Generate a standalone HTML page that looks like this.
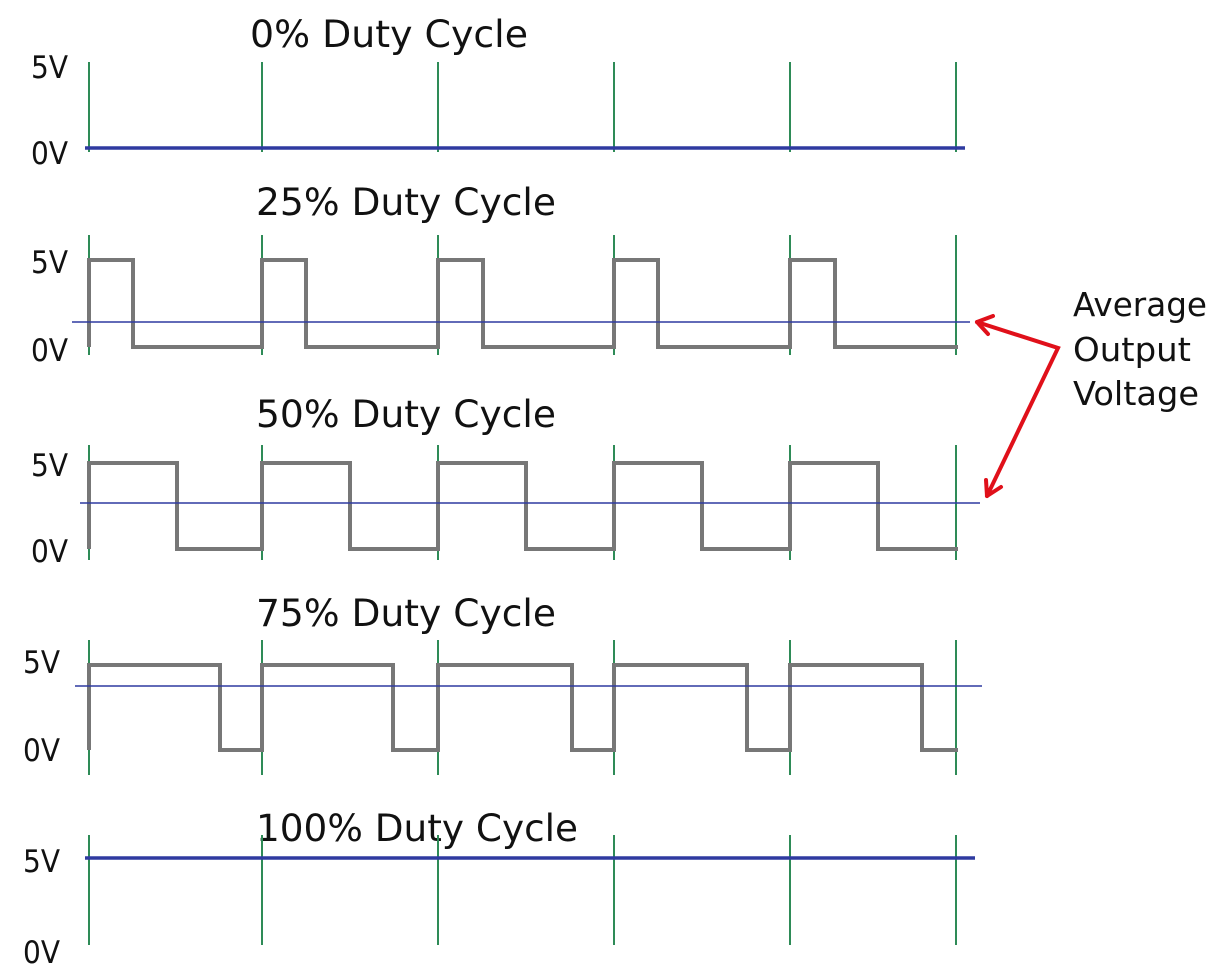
<!DOCTYPE html>
<html><head><style>body{margin:0;background:#fff}svg{display:block}text{font-family:"DejaVu Sans","Liberation Sans",sans-serif;fill:#111}</style></head><body>
<svg width="1207" height="973" viewBox="0 0 1207 973">
<g font-size="31">
<text x="31" y="78" textLength="37" lengthAdjust="spacingAndGlyphs">5V</text><text x="31" y="164" textLength="37" lengthAdjust="spacingAndGlyphs">0V</text>
<text x="31" y="273" textLength="37" lengthAdjust="spacingAndGlyphs">5V</text><text x="31" y="361" textLength="37" lengthAdjust="spacingAndGlyphs">0V</text>
<text x="31" y="476" textLength="37" lengthAdjust="spacingAndGlyphs">5V</text><text x="31" y="562" textLength="37" lengthAdjust="spacingAndGlyphs">0V</text>
<text x="23" y="673" textLength="37" lengthAdjust="spacingAndGlyphs">5V</text><text x="23" y="761" textLength="37" lengthAdjust="spacingAndGlyphs">0V</text>
<text x="23" y="872" textLength="37" lengthAdjust="spacingAndGlyphs">5V</text><text x="23" y="963" textLength="37" lengthAdjust="spacingAndGlyphs">0V</text>
</g>
<g font-size="37">
<text x="250" y="47" textLength="278" lengthAdjust="spacingAndGlyphs">0% Duty Cycle</text>
<text x="256" y="215" textLength="300" lengthAdjust="spacingAndGlyphs">25% Duty Cycle</text>
<text x="256" y="427" textLength="300" lengthAdjust="spacingAndGlyphs">50% Duty Cycle</text>
<text x="256" y="626" textLength="300" lengthAdjust="spacingAndGlyphs">75% Duty Cycle</text>
<text x="256" y="841" textLength="322" lengthAdjust="spacingAndGlyphs">100% Duty Cycle</text>
</g>
<g font-size="33">
<text x="1073" y="316" textLength="134" lengthAdjust="spacingAndGlyphs">Average</text>
<text x="1073" y="361" textLength="118" lengthAdjust="spacingAndGlyphs">Output</text>
<text x="1073" y="405" textLength="126" lengthAdjust="spacingAndGlyphs">Voltage</text>
</g>
<g stroke="#2e8b57" stroke-width="2">
<path d="M89 62V152M262 62V152M438 62V152M614 62V152M790 62V152M956 62V152"/>
<path d="M89 235V355M262 235V355M438 235V355M614 235V355M790 235V355M956 235V355"/>
<path d="M89 445V560M262 445V560M438 445V560M614 445V560M790 445V560M956 445V560"/>
<path d="M89 640V775M262 640V775M438 640V775M614 640V775M790 640V775M956 640V775"/>
<path d="M89 835V945M262 835V945M438 835V945M614 835V945M790 835V945M956 835V945"/>
</g>
<g fill="none" stroke="#777" stroke-width="4">
<polyline points="89,347 89,260 133,260 133,347 262,347 262,260 306,260 306,347 438,347 438,260 483,260 483,347 614,347 614,260 658,260 658,347 790,347 790,260 835,260 835,347 958,347"/>
<polyline points="89,549 89,463 177,463 177,549 262,549 262,463 350,463 350,549 438,549 438,463 526,463 526,549 614,549 614,463 702,463 702,549 790,549 790,463 878,463 878,549 958,549"/>
<polyline points="89,750 89,665 220,665 220,750 262,750 262,665 393,665 393,750 438,750 438,665 572,665 572,750 614,750 614,665 747,665 747,750 790,750 790,665 922,665 922,750 958,750"/>
</g>
<g stroke="#2f3aa0">
<path d="M85 148H965" stroke-width="3.5"/>
<path d="M72 322H970" stroke-width="1.5"/>
<path d="M80 503H980" stroke-width="1.5"/>
<path d="M75 686H982" stroke-width="1.5"/>
<path d="M85 858H975" stroke-width="3.5"/>
</g>
<g stroke="#e0101a" stroke-width="4" fill="none" stroke-linecap="round">
<polyline points="977,322 1058,348 987,496"/>
<path d="M977 322L993 316M977 322L988 334"/>
<path d="M987 496L986 480M987 496L1001 487"/>
</g>
</svg>
</body></html>
